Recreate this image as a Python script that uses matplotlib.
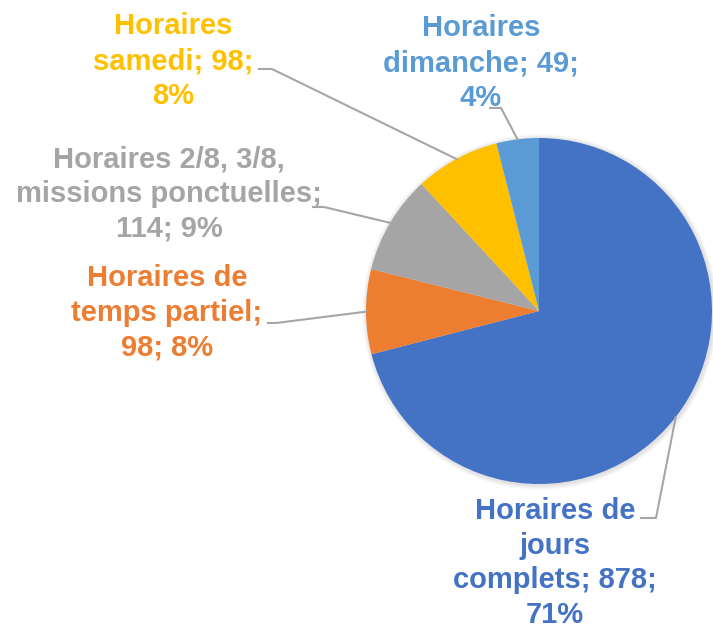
import numpy as np
import matplotlib.pyplot as plt

labels = ["Horaires de\njours\ncomplets; 878;\n71%",
          "Horaires de\ntemps partiel;\n98; 8%",
          "Horaires 2/8, 3/8,\nmissions ponctuelles;\n114; 9%",
          "Horaires\nsamedi; 98;\n8%",
          "Horaires\ndimanche; 49;\n4%"]
values = [878, 98, 114, 98, 49]
colors = ["#4472C4", "#ED7D31", "#A5A5A5", "#FFC000", "#5B9BD5"]

# label block centres and leader elbows, in pixels (y from top)
label_xy = [(555, 563), (167, 313), (169, 194), (173, 61), (481, 63)]
elbow_a = [(641, 518), (268, 323), (313, 207), (259, 69), (490, 108)]
elbow_b = [(656, 518), (276, 323), (324, 207), (272, 69), (501, 108)]

W, H = 713, 630
cx, cy, r = 539, 311, 173

fig = plt.figure(figsize=(W / 100, H / 100), dpi=100)
ax = fig.add_axes([0, 0, 1, 1])

# soft shadow round the pie
for k in range(6):
    ax.add_patch(plt.Circle((cx + 1, H - cy - 1), r + 0.8 * (6 - k),
                            color="black", alpha=0.018, lw=0, zorder=0))

wedges, _ = ax.pie(values, colors=colors, startangle=90, counterclock=False,
                   center=(cx, H - cy), radius=r, frame=True)
ax.set_xlim(0, W)
ax.set_ylim(0, H)
ax.set_aspect("equal")
ax.axis("off")

total = float(sum(values))
start = 0.0
for i, v in enumerate(values):
    mid = start + v / total * 360 / 2
    start += v / total * 360
    px = cx + r * np.sin(np.radians(mid))
    py = cy - r * np.cos(np.radians(mid))
    xs = [elbow_a[i][0], elbow_b[i][0], px]
    ys = [H - elbow_a[i][1], H - elbow_b[i][1], H - py]
    ax.plot(xs, ys, color="#A6A6A6", lw=1.5, zorder=1)
    tx, ty = label_xy[i]
    ax.text(tx, H - ty, labels[i], color=colors[i], fontsize=21, fontweight="bold",
            family="Liberation Sans", ha="center", va="center",
            multialignment="center", linespacing=1.3)

fig.savefig("out.png", dpi=100)
